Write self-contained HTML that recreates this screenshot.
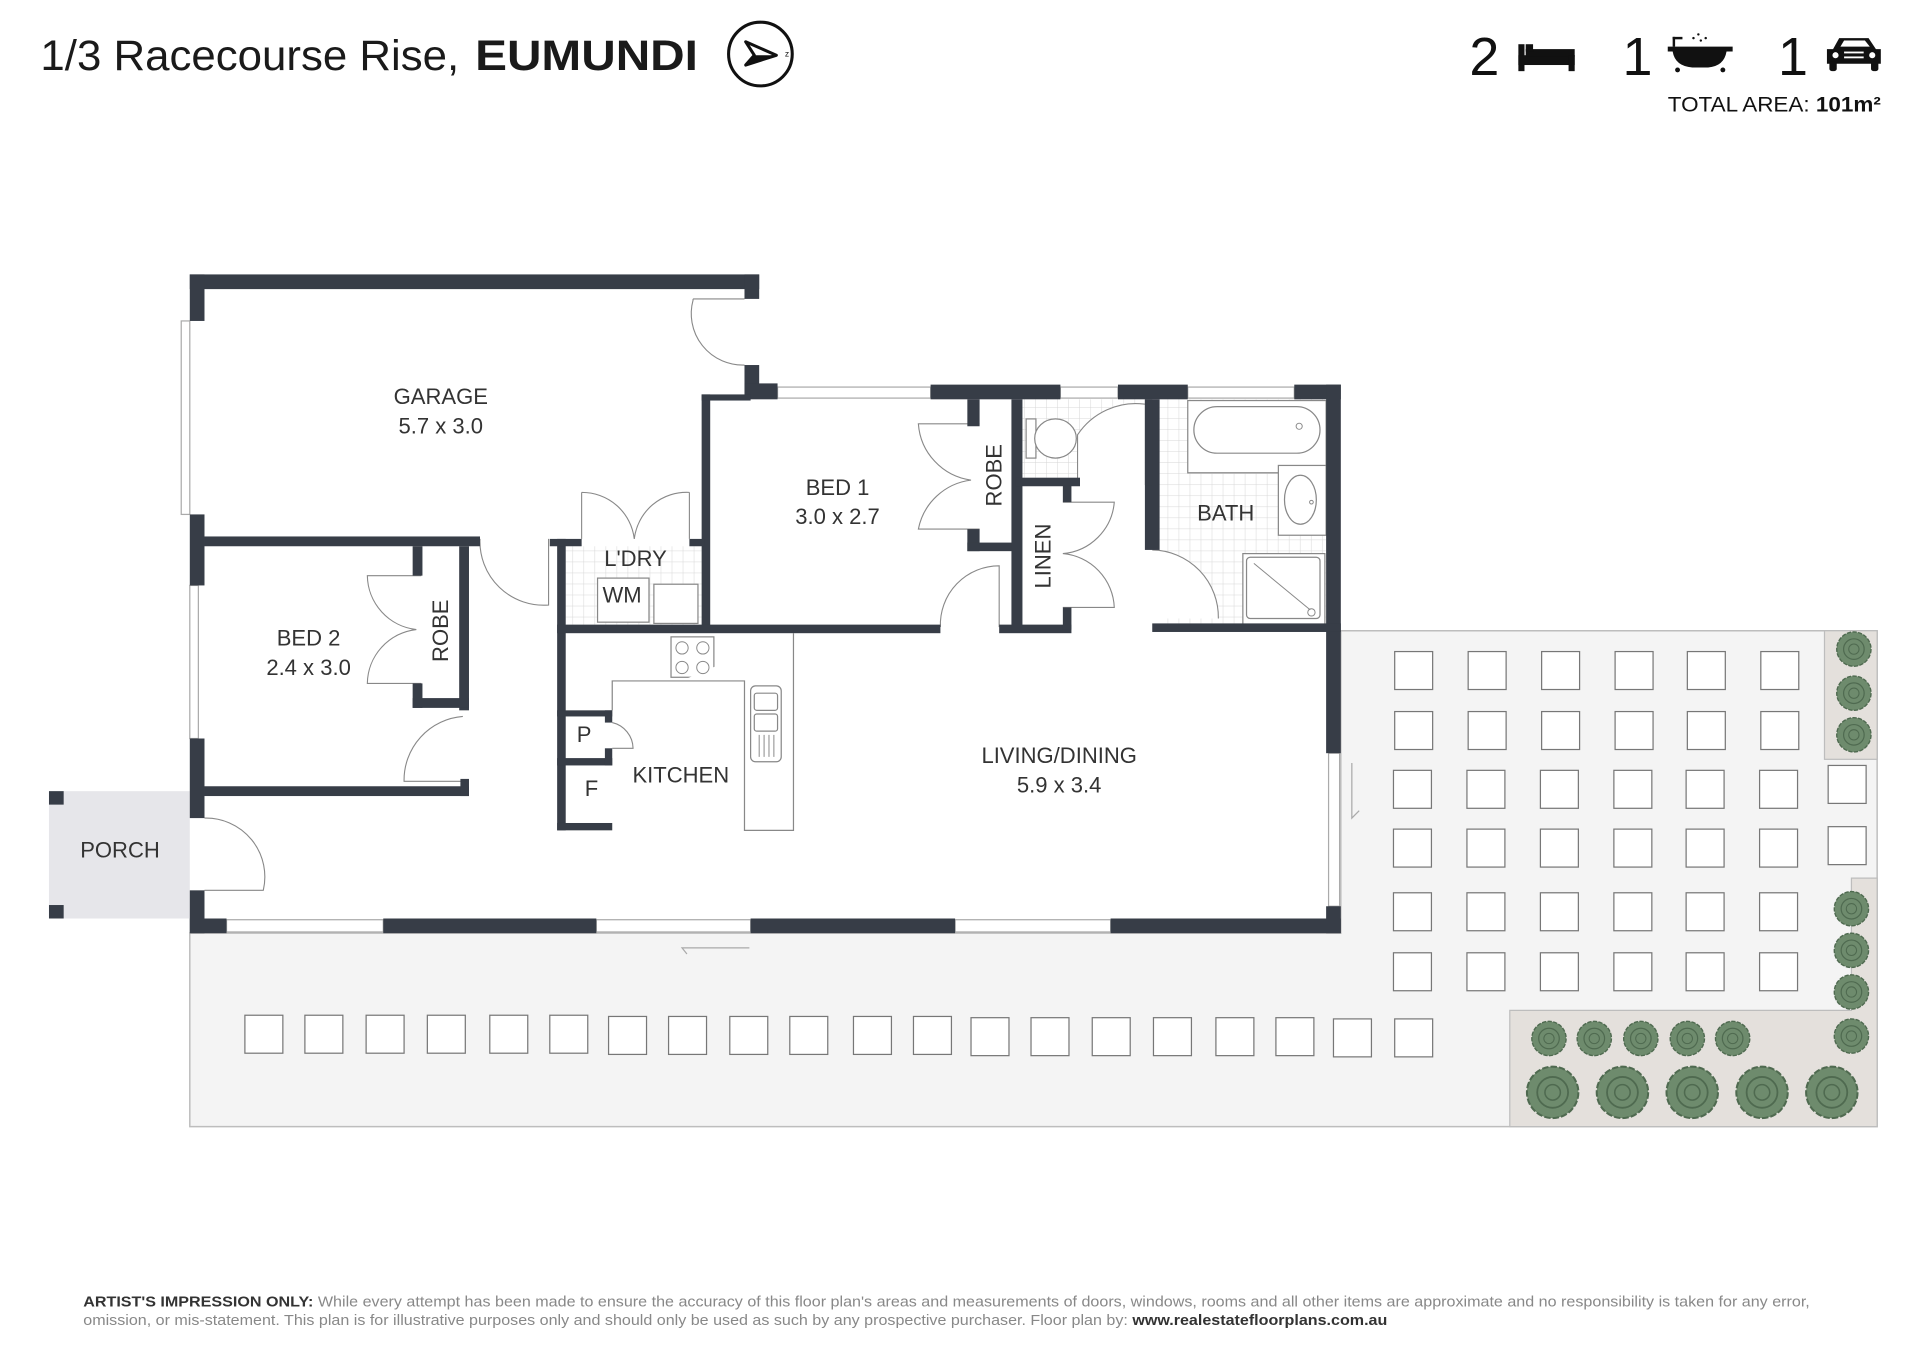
<!DOCTYPE html>
<html><head><meta charset="utf-8"><style>
html,body{margin:0;padding:0;background:#fff;}
svg{display:block;}
text{font-family:"Liberation Sans",sans-serif;}
</style></head><body>
<svg width="1920" height="1357" viewBox="0 0 1568 1108" xmlns="http://www.w3.org/2000/svg">
<defs>
<pattern id="tile" width="9" height="9" patternUnits="userSpaceOnUse">
<rect width="9" height="9" fill="#fff"/><path d="M9 0V9M0 9H9" stroke="#d6d6d6" stroke-width="0.8"/>
</pattern>
<g id="pl"><circle r="1" fill="#6e8b6d" stroke="#4f6a50" stroke-width="0.08" stroke-dasharray="0.25 0.08"/><circle r="0.6" fill="none" stroke="#4f6a50" stroke-width="0.07"/><circle r="0.3" fill="none" stroke="#4f6a50" stroke-width="0.06"/></g>
</defs>

<!-- Header -->
<text x="33" y="57" font-size="35" fill="#1a1a1a" textLength="342" lengthAdjust="spacingAndGlyphs">1/3 Racecourse Rise,</text>
<text x="388" y="57" font-size="35" fill="#1a1a1a" font-weight="bold" textLength="182" lengthAdjust="spacingAndGlyphs">EUMUNDI</text>
<circle cx="621" cy="44" r="26" fill="none" stroke="#111" stroke-width="2.5"/>
<path d="M609 34 L634 45 L609 53 L616 45 Z" fill="none" stroke="#111" stroke-width="2.5" stroke-linejoin="round"/>
<path d="M616 45 L609 53 L634 45 Z" fill="#111"/>
<text x="641" y="46" font-size="7" fill="#111">z</text>

<text x="1200" y="61" font-size="44" fill="#111">2</text>
<g fill="#111"><rect x="1240" y="36" width="5" height="22"/><rect x="1240" y="45" width="46" height="8"/><rect x="1246" y="40" width="40" height="6"/><rect x="1281" y="45" width="5" height="13"/><rect x="1246" y="36" width="6" height="6"/></g>
<text x="1325" y="61" font-size="44" fill="#111">1</text>
<g fill="#111"><path d="M1362 38 H1415 V42 H1410 Q1408 54 1395 55 H1382 Q1368 54 1366 42 H1362 Z"/><circle cx="1370" cy="57" r="2"/><circle cx="1407" cy="57" r="2"/><rect x="1366" y="30" width="2" height="8"/><rect x="1366" y="30" width="8" height="2"/><circle cx="1383" cy="31" r="1"/><circle cx="1387" cy="28" r="1"/><circle cx="1389" cy="33" r="1"/><circle cx="1393" cy="31" r="1"/></g>
<text x="1452" y="61" font-size="44" fill="#111">1</text>
<g fill="#111"><path d="M1497 40 L1502 31 H1526 L1532 40 H1536 V52 H1492 V40 Z"/><rect x="1494" y="50" width="6" height="8" rx="2"/><rect x="1528" y="50" width="6" height="8" rx="2"/><circle cx="1499" cy="45" r="2.5" fill="#fff"/><circle cx="1529" cy="45" r="2.5" fill="#fff"/><rect x="1506" y="42" width="16" height="1.5" fill="#fff"/><rect x="1506" y="46" width="16" height="1.5" fill="#fff"/><path d="M1503 38 L1506 33 H1523 L1527 38 Z" fill="#fff"/></g>
<text x="1362" y="91" font-size="17" fill="#111" textLength="174" lengthAdjust="spacingAndGlyphs">TOTAL AREA:  <tspan font-weight="bold">101m²</tspan></text>

<!-- Outdoor paving -->
<path d="M155 762 H1095 V515 H1533 V920 H155 Z" fill="#f4f4f4" stroke="#bdbdbd" stroke-width="1.2"/>
<rect x="1490" y="515" width="43" height="105" fill="#e4e0dc" stroke="#bdbdbd" stroke-width="1"/>
<path d="M1233 920 V825 H1512 V717 H1533 V920 Z" fill="#e4e0dc" stroke="#bdbdbd" stroke-width="1"/>
<g fill="#fff" stroke="#777" stroke-width="1">
<rect x="1139" y="532" width="31" height="31"/><rect x="1199" y="532" width="31" height="31"/><rect x="1259" y="532" width="31" height="31"/><rect x="1319" y="532" width="31" height="31"/><rect x="1378" y="532" width="31" height="31"/><rect x="1438" y="532" width="31" height="31"/>
<rect x="1139" y="581" width="31" height="31"/><rect x="1199" y="581" width="31" height="31"/><rect x="1259" y="581" width="31" height="31"/><rect x="1319" y="581" width="31" height="31"/><rect x="1378" y="581" width="31" height="31"/><rect x="1438" y="581" width="31" height="31"/>
<rect x="1138" y="629" width="31" height="31"/><rect x="1198" y="629" width="31" height="31"/><rect x="1258" y="629" width="31" height="31"/><rect x="1318" y="629" width="31" height="31"/><rect x="1377" y="629" width="31" height="31"/><rect x="1437" y="629" width="31" height="31"/><rect x="1493" y="625" width="31" height="31"/>
<rect x="1138" y="677" width="31" height="31"/><rect x="1198" y="677" width="31" height="31"/><rect x="1258" y="677" width="31" height="31"/><rect x="1318" y="677" width="31" height="31"/><rect x="1377" y="677" width="31" height="31"/><rect x="1437" y="677" width="31" height="31"/><rect x="1493" y="675" width="31" height="31"/>
<rect x="1138" y="729" width="31" height="31"/><rect x="1198" y="729" width="31" height="31"/><rect x="1258" y="729" width="31" height="31"/><rect x="1318" y="729" width="31" height="31"/><rect x="1377" y="729" width="31" height="31"/><rect x="1437" y="729" width="31" height="31"/>
<rect x="1138" y="778" width="31" height="31"/><rect x="1198" y="778" width="31" height="31"/><rect x="1258" y="778" width="31" height="31"/><rect x="1318" y="778" width="31" height="31"/><rect x="1377" y="778" width="31" height="31"/><rect x="1437" y="778" width="31" height="31"/>
<rect x="200" y="829" width="31" height="31"/><rect x="249" y="829" width="31" height="31"/><rect x="299" y="829" width="31" height="31"/><rect x="349" y="829" width="31" height="31"/><rect x="400" y="829" width="31" height="31"/><rect x="449" y="829" width="31" height="31"/><rect x="497" y="830" width="31" height="31"/><rect x="546" y="830" width="31" height="31"/><rect x="596" y="830" width="31" height="31"/><rect x="645" y="830" width="31" height="31"/><rect x="697" y="830" width="31" height="31"/><rect x="746" y="830" width="31" height="31"/><rect x="793" y="831" width="31" height="31"/><rect x="842" y="831" width="31" height="31"/><rect x="892" y="831" width="31" height="31"/><rect x="942" y="831" width="31" height="31"/><rect x="993" y="831" width="31" height="31"/><rect x="1042" y="831" width="31" height="31"/><rect x="1089" y="832" width="31" height="31"/><rect x="1139" y="832" width="31" height="31"/>
</g>
<g>
<use href="#pl" transform="translate(1514,530) scale(14)"/><use href="#pl" transform="translate(1514,566) scale(14)"/><use href="#pl" transform="translate(1514,600) scale(14)"/>
<use href="#pl" transform="translate(1512,742) scale(14)"/><use href="#pl" transform="translate(1512,776) scale(14)"/><use href="#pl" transform="translate(1512,810) scale(14)"/><use href="#pl" transform="translate(1512,846) scale(14)"/>
<use href="#pl" transform="translate(1265,848) scale(14)"/><use href="#pl" transform="translate(1302,848) scale(14)"/><use href="#pl" transform="translate(1340,848) scale(14)"/><use href="#pl" transform="translate(1378,848) scale(14)"/><use href="#pl" transform="translate(1415,848) scale(14)"/>
<use href="#pl" transform="translate(1268,892) scale(21)"/><use href="#pl" transform="translate(1325,892) scale(21)"/><use href="#pl" transform="translate(1382,892) scale(21)"/><use href="#pl" transform="translate(1439,892) scale(21)"/><use href="#pl" transform="translate(1496,892) scale(21)"/>
</g>
<path d="M612 774 H557 L561 779" fill="none" stroke="#aaa" stroke-width="1"/>
<path d="M1104 623 V668 L1110 662" fill="none" stroke="#aaa" stroke-width="1"/>

<!-- Porch -->
<rect x="40" y="646" width="115" height="104" fill="#e6e6ea"/>
<rect x="40" y="646" width="12" height="11" fill="#373d47"/><rect x="40" y="739" width="12" height="11" fill="#373d47"/>

<!-- Tiled areas -->
<rect x="462" y="446" width="111" height="64" fill="url(#tile)"/>
<rect x="835" y="326" width="106" height="64" fill="url(#tile)"/>
<rect x="947" y="326" width="136" height="183" fill="url(#tile)"/>
<path d="M880 396 V355 A57 57 0 0 1 935 330 V396 Z" fill="#fff"/>
<path d="M941 449 V505 H995 A55 55 0 0 0 941 449 Z" fill="#fff"/>

<!-- Fixtures -->
<g fill="#fff" stroke="#888" stroke-width="1">
<rect x="970" y="327" width="113" height="59"/>
<rect x="975" y="332" width="103" height="38" rx="19"/>
<rect x="1044" y="380" width="39" height="57"/>
<ellipse cx="1062" cy="408" rx="13" ry="20"/>
<rect x="1015" y="452" width="67" height="58"/>
<rect x="1018" y="455" width="60" height="50" rx="3"/>
<rect x="838" y="342" width="8" height="32"/>
<ellipse cx="862" cy="358" rx="17" ry="16"/>
<rect x="488" y="472" width="42" height="36"/>
<rect x="534" y="477" width="36" height="32"/>
<rect x="548" y="520" width="35" height="33"/>
<path d="M500 580 V556 H608 V678 H648 V517"/>
<rect x="613" y="560" width="25" height="62" rx="4"/>
<rect x="616" y="566" width="19" height="14" rx="2"/><rect x="616" y="583" width="19" height="14" rx="2"/>
</g>
<g fill="none" stroke="#888" stroke-width="0.8">
<circle cx="557" cy="529" r="5"/><circle cx="574" cy="529" r="5"/><circle cx="557" cy="545" r="5"/><circle cx="574" cy="545" r="5"/>
<path d="M620 600V618M624 600V618M628 600V618M632 600V618"/>
<path d="M1024 460 L1070 498"/><circle cx="1071" cy="500" r="3"/><circle cx="1061" cy="348" r="2.5"/><circle cx="1071" cy="410" r="1.5"/>
</g>

<!-- Windows -->
<g fill="#fff" stroke="#aaa" stroke-width="1">
<rect x="148" y="262" width="7" height="158"/>
<rect x="155" y="478" width="7" height="125"/>
<rect x="635" y="316" width="125" height="9"/>
<rect x="866" y="316" width="47" height="9"/>
<rect x="970" y="316" width="87" height="9"/>
<rect x="1085" y="615" width="9" height="125"/>
<rect x="185" y="751" width="128" height="10"/>
<rect x="487" y="751" width="126" height="10"/>
<rect x="780" y="751" width="127" height="10"/>
</g>

<!-- Door arcs -->
<g fill="none" stroke="#888" stroke-width="0.9">
<path d="M566 244 V245 A42 42 0 0 0 608 298"/><path d="M566 244 H608"/>
<path d="M475 402 V440 M475 402 A43 43 0 0 1 518 440 M563 402 V440 M563 402 A43 43 0 0 0 518 440"/>
<path d="M392 440 A52 52 0 0 0 448 494 V440"/>
<path d="M800 346 H750 A50 50 0 0 0 793 392 A50 50 0 0 0 750 432 H800"/>
<path d="M344 470 H300 A45 45 0 0 0 340 514 A45 45 0 0 0 300 558 H344"/>
<path d="M378 585 A52 52 0 0 0 330 638 H378"/>
<path d="M768 512 A48 48 0 0 1 816 462 V512"/>
<path d="M868 410 H910 A46 46 0 0 1 868 452 A46 46 0 0 1 910 496 H868"/>
<path d="M880 396 V355 A57 57 0 0 1 935 330"/>
<path d="M941 449 A55 55 0 0 1 995 505"/>
<path d="M167 668 A48 48 0 0 1 215 727 H167"/>
<path d="M500 590 A22 22 0 0 1 517 611 H500"/>
</g>

<!-- Walls -->
<g fill="#373d47">
<rect x="155" y="224" width="465" height="12"/>
<rect x="155" y="224" width="12" height="38"/>
<rect x="608" y="224" width="12" height="20"/>
<rect x="608" y="298" width="12" height="24"/>
<rect x="608" y="313" width="27" height="13"/>
<rect x="573" y="322" width="7" height="190"/>
<rect x="573" y="322" width="40" height="5"/>
<rect x="760" y="314" width="106" height="12"/>
<rect x="913" y="314" width="57" height="12"/>
<rect x="1057" y="314" width="38" height="12"/>
<rect x="1083" y="314" width="12" height="301"/>
<rect x="1083" y="740" width="12" height="22"/>
<rect x="155" y="420" width="12" height="58"/>
<rect x="155" y="603" width="12" height="65"/>
<rect x="155" y="727" width="12" height="35"/>
<rect x="155" y="750" width="30" height="12"/>
<rect x="313" y="750" width="174" height="12"/>
<rect x="613" y="750" width="167" height="12"/>
<rect x="907" y="750" width="188" height="12"/>
<rect x="167" y="438" width="225" height="8"/>
<rect x="167" y="642" width="216" height="8"/>
<rect x="375" y="446" width="8" height="134"/>
<rect x="337" y="446" width="8" height="24"/>
<rect x="337" y="558" width="8" height="20"/>
<rect x="337" y="570" width="46" height="8"/>
<rect x="376" y="636" width="7" height="14"/>
<rect x="455" y="440" width="7" height="238"/>
<rect x="449" y="440" width="26" height="6"/>
<rect x="563" y="440" width="12" height="6"/>
<rect x="455" y="510" width="313" height="7"/>
<rect x="816" y="510" width="59" height="7"/>
<rect x="941" y="509" width="154" height="7"/>
<rect x="790" y="326" width="10" height="22"/>
<rect x="790" y="432" width="10" height="18"/>
<rect x="790" y="443" width="40" height="7"/>
<rect x="826" y="326" width="9" height="190"/>
<rect x="829" y="390" width="53" height="7"/>
<rect x="868" y="396" width="7" height="14"/>
<rect x="868" y="496" width="7" height="18"/>
<rect x="935" y="326" width="12" height="123"/>
<rect x="935" y="326" width="6" height="70"/>
<rect x="455" y="580" width="45" height="5"/>
<rect x="494" y="580" width="6" height="10"/>
<rect x="455" y="619" width="45" height="6"/>
<rect x="494" y="611" width="6" height="14"/>
<rect x="455" y="672" width="45" height="6"/>
</g>

<!-- Labels -->
<g font-size="18" fill="#333" text-anchor="middle">
<text x="360" y="330">GARAGE</text><text x="360" y="354">5.7 x 3.0</text>
<text x="684" y="404">BED 1</text><text x="684" y="428">3.0 x 2.7</text>
<text x="252" y="527">BED 2</text><text x="252" y="551">2.4 x 3.0</text>
<text x="865" y="623">LIVING/DINING</text><text x="865" y="647">5.9 x 3.4</text>
<text x="556" y="639">KITCHEN</text>
<text x="1001" y="425">BATH</text>
<text x="519" y="462">L'DRY</text>
<text x="508" y="492">WM</text>
<text x="477" y="606">P</text>
<text x="483" y="650">F</text>
<text x="98" y="700">PORCH</text>
<text transform="translate(818,388) rotate(-90)">ROBE</text>
<text transform="translate(366,515) rotate(-90)">ROBE</text>
<text transform="translate(858,454) rotate(-90)">LINEN</text>
</g>

<!-- Footer -->
<text x="68" y="1067" font-size="12" fill="#888" textLength="1410" lengthAdjust="spacingAndGlyphs"><tspan font-weight="bold" fill="#333">ARTIST'S IMPRESSION ONLY:</tspan> While every attempt has been made to ensure the accuracy of this floor plan's areas and measurements of doors, windows, rooms and all other items are approximate and no responsibility is taken for any error,</text>
<text x="68" y="1082" font-size="12" fill="#888" textLength="1065" lengthAdjust="spacingAndGlyphs">omission, or mis-statement. This plan is for illustrative purposes only and should only be used as such by any prospective purchaser. Floor plan by: <tspan font-weight="bold" fill="#333">www.realestatefloorplans.com.au</tspan></text>
</svg>
</body></html>
